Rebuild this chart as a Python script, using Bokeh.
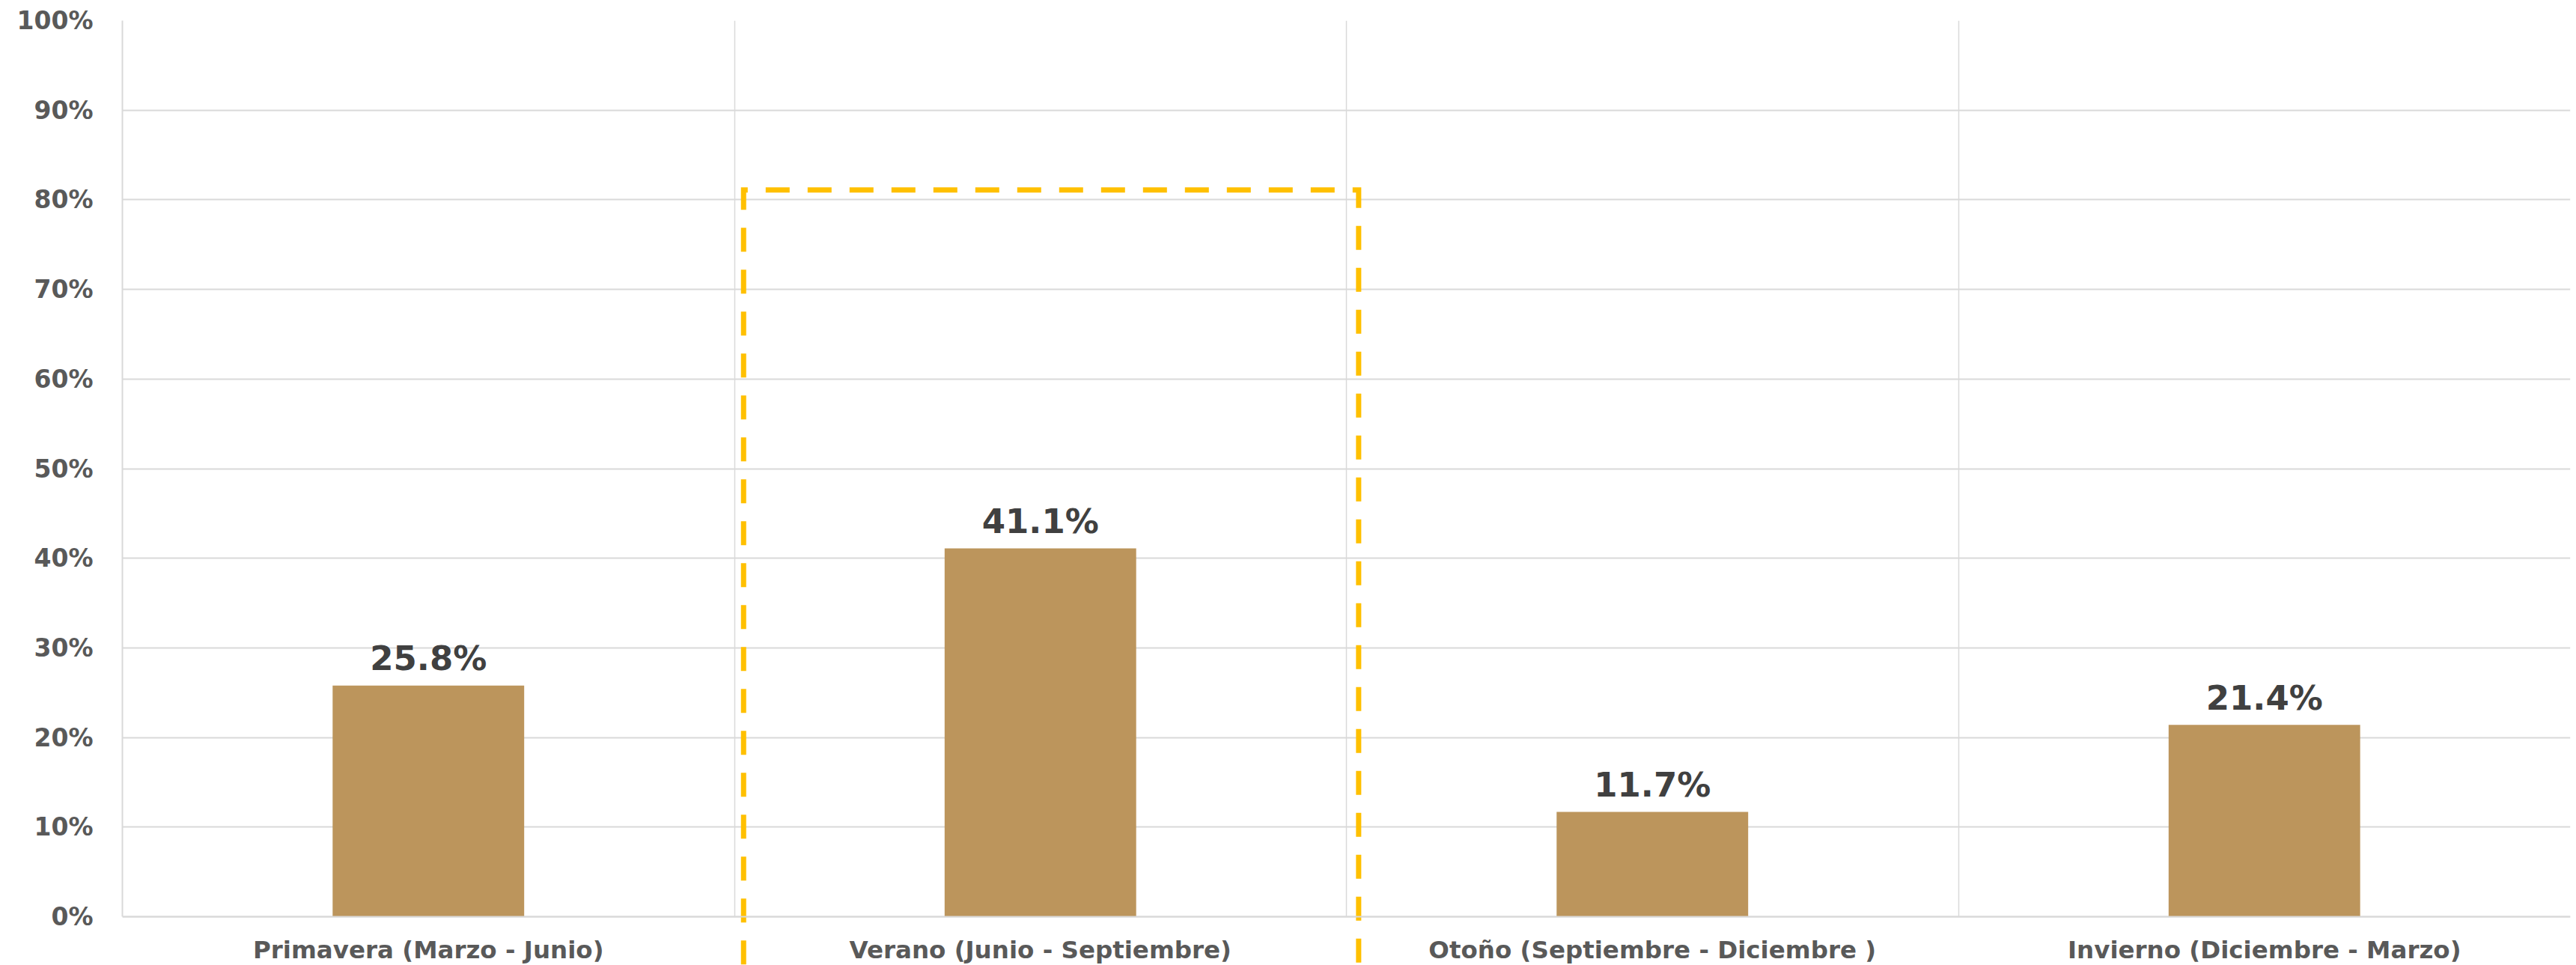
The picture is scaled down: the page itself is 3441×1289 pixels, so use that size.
from bokeh.plotting import figure
from bokeh.models import FixedTicker, PrintfTickFormatter, Range1d, FactorRange, ColumnDataSource
from bokeh.core.properties import value
from bokeh.embed import file_html
from bokeh.resources import INLINE

# ---- data ----
categories = [
    "Primavera (Marzo - Junio)",
    "Verano (Junio - Septiembre)",
    "Otoño (Septiembre - Diciembre )",
    "Invierno (Diciembre - Marzo)",
]
shares = [25.8, 41.1, 11.7, 21.4]
y_ticks = [0, 10, 20, 30, 40, 50, 60, 70, 80, 90, 100]
bar_labels = [f"{v:.1f}%" for v in shares]
highlight_category = "Verano (Junio - Septiembre)"

# ---- styling ----
FONT = "DejaVu Sans"
GRID = "#D9D9D9"
TICK_TXT = "#595959"
BAR = "#BC955C"
HILITE = "#FFC000"
highlight_top = 81.1
highlight_bottom = -10

p = figure(
    x_range=FactorRange(factors=categories, range_padding=0),
    y_range=Range1d(-5.43, 100),
    width=3436, height=1289,
    output_backend="svg", toolbar_location=None,
    min_border_left=163, min_border_top=27, min_border_bottom=0, min_border_right=3,
    background_fill_color="white", border_fill_color="white",
)
p.outline_line_color = None

# bars
src = ColumnDataSource(dict(cat=categories, val=shares, lab=bar_labels))
p.vbar(x="cat", top="val", width=0.313, source=src, fill_color=BAR, line_color=None)

# value labels
p.text(x="cat", y="val", text="lab", source=src, text_align="center", text_baseline="alphabetic",
       y_offset=-36, text_font=value(FONT), text_font_style="bold", text_font_size="45px",
       text_color="#404040")

# highlight dashed box around Verano
hx = [(highlight_category, -0.485), (highlight_category, -0.485),
      (highlight_category, 0.52), (highlight_category, 0.52)]
hy = [highlight_bottom, highlight_top, highlight_top, highlight_bottom]
p.line(x=hx, y=hy, line_color=HILITE, line_width=7, line_dash="32 24", line_join="miter")

# axes
p.xaxis.fixed_location = 0
p.xaxis.axis_line_color = GRID
p.xaxis.axis_line_width = 2
p.xaxis.major_tick_line_color = None
p.xaxis.minor_tick_line_color = None
p.xaxis.major_label_text_font = FONT
p.xaxis.major_label_text_font_style = "bold"
p.xaxis.major_label_text_font_size = "32.5px"
p.xaxis.major_label_text_color = TICK_TXT
p.xaxis.major_label_standoff = 19

p.yaxis.ticker = FixedTicker(ticks=y_ticks)
p.yaxis.formatter = PrintfTickFormatter(format="%d%%")
p.yaxis.bounds = (0, 100)
p.yaxis.axis_line_color = GRID
p.yaxis.axis_line_width = 2
p.yaxis.major_tick_line_color = None
p.yaxis.minor_tick_line_color = None
p.yaxis.major_label_text_font = FONT
p.yaxis.major_label_text_font_style = "bold"
p.yaxis.major_label_text_font_size = "33px"
p.yaxis.major_label_text_color = TICK_TXT
p.yaxis.major_label_standoff = 33

# grids
p.ygrid.ticker = FixedTicker(ticks=y_ticks)
p.ygrid.grid_line_color = GRID
p.ygrid.grid_line_width = 2
p.xgrid.ticker = FixedTicker(ticks=list(range(1, len(categories) + 1)))
p.xgrid.grid_line_color = GRID
p.xgrid.grid_line_width = 1.5
p.xgrid.cross_bounds = (0, 100)

open("out.html", "w").write(file_html(p, INLINE))
